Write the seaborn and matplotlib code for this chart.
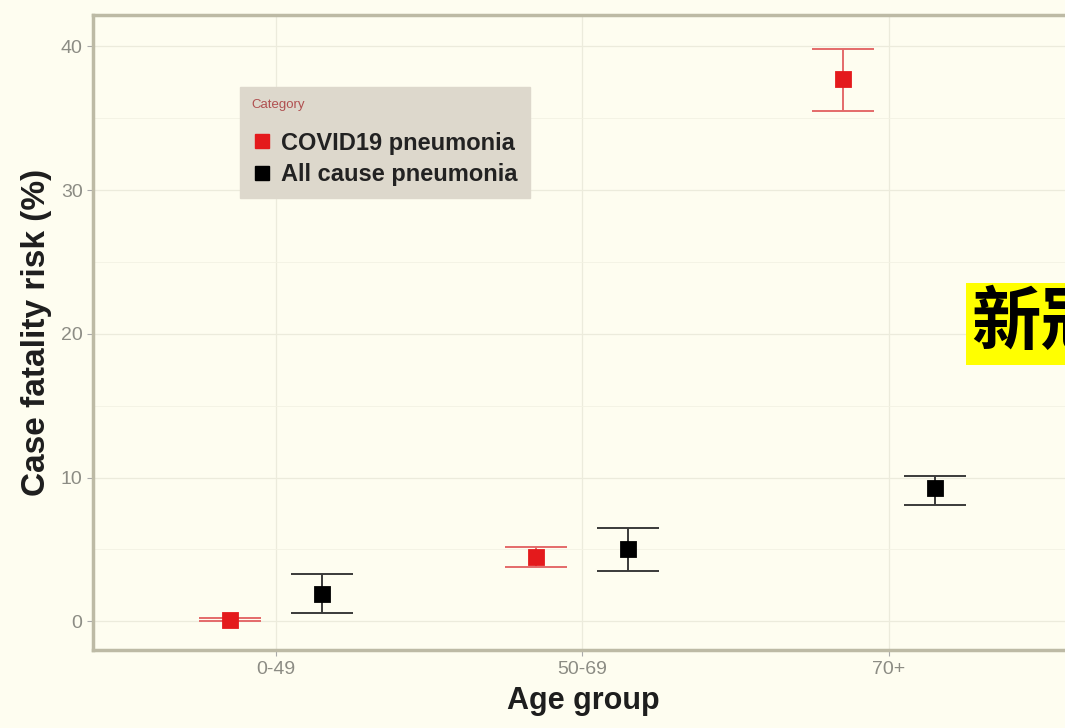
import numpy as np
import pandas as pd
import seaborn as sns
import matplotlib.pyplot as plt
from matplotlib.lines import Line2D
from matplotlib.ticker import MultipleLocator

# 数据
age_groups = ["0-49", "50-69", "70+"]
categories = ["COVID19 pneumonia", "All cause pneumonia"]
covid_cfr = [0.1, 4.5, 37.7]
covid_low = [0.0, 3.75, 35.5]
covid_high = [0.2, 5.2, 39.8]
allcause_cfr = [1.9, 5.0, 9.25]
allcause_low = [0.55, 3.5, 8.1]
allcause_high = [3.3, 6.5, 10.1]
colors = {"COVID19 pneumonia": "#e41a1c", "All cause pneumonia": "#000000"}
bar_colors = {"COVID19 pneumonia": "#e46a6a", "All cause pneumonia": "#3a3a3a"}

df = pd.DataFrame({
    "Age group": age_groups * 2,
    "Category": [categories[0]] * 3 + [categories[1]] * 3,
    "cfr": covid_cfr + allcause_cfr,
    "low": covid_low + allcause_low,
    "high": covid_high + allcause_high,
})

sns.set_style("white")
plt.rcParams["font.family"] = ["Liberation Sans", "DejaVu Sans"]

bg = "#fefdf0"
fig = plt.figure(figsize=(10.65, 7.28), dpi=100, facecolor=bg)
ax = fig.add_axes([0.0873, 0.107, 0.920, 0.872])
ax.set_facecolor(bg)

# 误差线
dodge = 0.15
for i, cat in enumerate(categories):
    sub = df[df["Category"] == cat]
    xs = np.arange(len(age_groups)) + (-dodge if i == 0 else dodge)
    ax.errorbar(xs, sub["cfr"], yerr=[sub["cfr"] - sub["low"], sub["high"] - sub["cfr"]],
                fmt="none", ecolor=bar_colors[cat], elinewidth=1.4, capsize=22,
                capthick=1.4, zorder=3)

sns.pointplot(data=df, x="Age group", y="cfr", hue="Category", order=age_groups,
              hue_order=categories, palette=colors, dodge=0.3, linestyle="none",
              markers="s", markersize=9.5, errorbar=None, ax=ax, zorder=4, legend=False)

ax.set_xlim(-0.596, 2.6)
ax.set_ylim(-2.0, 42.16)
ax.yaxis.set_major_locator(MultipleLocator(10))
ax.yaxis.set_minor_locator(MultipleLocator(5))
ax.grid(True, which="major", color="#ecebdc", linewidth=0.9)
ax.grid(True, which="minor", axis="y", color="#f3f2e3", linewidth=0.6)
ax.set_axisbelow(True)

for s in ax.spines.values():
    s.set_color("#bdbaa5")
    s.set_linewidth(2.5)

ax.tick_params(axis="both", which="major", labelsize=14, labelcolor="#8c8c84",
               color="#aaaaaa", length=4, width=0.8, left=True, bottom=True)
ax.tick_params(axis="y", which="minor", left=False)

ax.set_xlabel("Age group", fontsize=22, fontweight="bold", color="#1e1e1e", labelpad=6)
ax.set_ylabel("Case fatality risk (%)", fontsize=24, fontweight="bold", color="#1e1e1e", labelpad=6)

# 图例
handles = [Line2D([0], [0], marker="s", linestyle="none", markersize=10,
                  markerfacecolor=colors[c], markeredgecolor=colors[c]) for c in categories]
leg = ax.legend(handles, categories, title="Category", loc="upper left",
                bbox_to_anchor=(0.150, 0.887), frameon=True, fancybox=False,
                prop={"size": 17, "weight": "bold"}, title_fontsize=9.5,
                handletextpad=0.35, handlelength=0.9, borderpad=0.5, labelspacing=0.35,
                borderaxespad=0)
leg._legend_box.sep = 15
leg.get_frame().set_facecolor("#ddd8cc")
leg.get_frame().set_edgecolor("#ddd8cc")
leg.get_frame().set_alpha(1)
leg.get_title().set_color("#b05050")
leg._legend_box.align = "left"
for t in leg.get_texts():
    t.set_color("#222222")

# 水印
fig.text(0.912, 0.555, "新冠", fontsize=50, fontweight="bold", va="center", ha="left",
         color="black", family=["Noto Sans CJK SC", "DejaVu Sans"],
         bbox=dict(facecolor="#ffff00", edgecolor="none", pad=4))

fig.savefig("out.png", dpi=100, facecolor=bg)
